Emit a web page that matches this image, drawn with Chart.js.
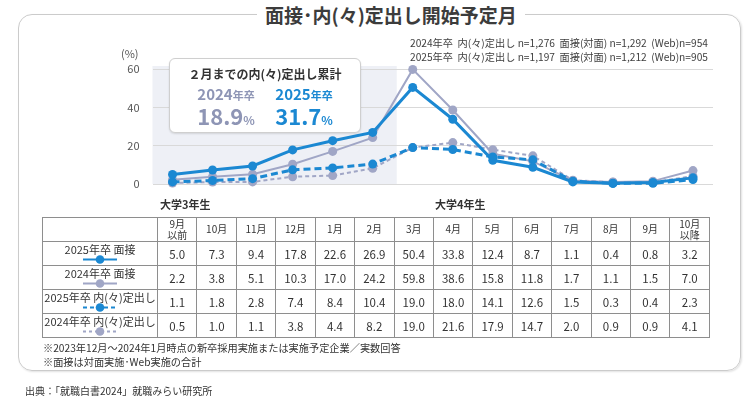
<!DOCTYPE html>
<html><head><meta charset="utf-8">
<script src="https://cdn.jsdelivr.net/npm/chart.js@4.4.1/dist/chart.umd.min.js"></script>
<style>
html,body{margin:0;padding:0;background:#fff;width:750px;height:399px;overflow:hidden;font-family:'Noto Sans CJK JP','Noto Sans',sans-serif;color:#333;}
#frame{position:absolute;left:18px;top:14px;width:721px;height:355px;border:1.5px solid #cbcbcb;border-radius:14px;box-shadow:1px 1px 2px rgba(0,0,0,0.12);}
#title{position:absolute;left:257px;top:3px;padding:0 8px;background:#fff;font-weight:bold;font-size:19px;line-height:24px;color:#3c3c3c;white-space:nowrap;}
#c{position:absolute;left:0;top:0;}
.t{position:absolute;white-space:nowrap;}
#nlines{left:410px;top:36px;font-size:10.2px;line-height:14px;color:#404040;}
#pct{left:121px;top:45px;font-size:11px;color:#555;}
.grade{font-weight:bold;font-size:11px;color:#333;top:196px;}
#box{position:absolute;left:169px;top:58px;width:190px;height:73px;background:#fff;border:1px solid #cfcfcf;border-radius:6px;box-shadow:0 1px 2px rgba(0,0,0,0.12);}
#box .bt{position:absolute;left:0;width:100%;top:6px;text-align:center;font-weight:bold;font-size:12px;color:#333;}
#box .col{position:absolute;top:27px;width:80px;text-align:center;font-weight:bold;line-height:1;}
#box .yr{font-size:15px;}
#box .yr small{font-size:11px;}
#box .val{font-size:22px;margin-top:3px;}
#box .val small{font-size:12px;}
table{position:absolute;left:42px;top:217px;border-collapse:collapse;table-layout:fixed;width:668px;}
tr{height:24px;}
td{border:1px solid #8e8e8e;text-align:center;font-size:11.5px;color:#333;padding:0;line-height:14px;}
td.hd{font-size:10px;line-height:10.5px;}
td.rh{font-size:11px;line-height:12px;vertical-align:top;padding-top:1px;}
td.rh svg{display:block;margin:0 auto;}
.note{font-size:10.2px;left:43px;color:#333;}
#src{left:25px;top:383px;font-size:10px;color:#333;}
</style></head>
<body>
<div id="frame"></div>
<div id="title">面接･内(々)定出し開始予定月</div>
<canvas id="c" width="750" height="399"></canvas>
<div class="t" id="nlines">2024年卒&nbsp; 内(々)定出し n=1,276&nbsp; 面接(対面) n=1,292&nbsp; (Web)n=954<br>2025年卒&nbsp; 内(々)定出し n=1,197&nbsp; 面接(対面) n=1,212&nbsp; (Web)n=905</div>
<div class="t" id="pct">(%)</div>
<div class="t grade" style="left:160px">大学3年生</div>
<div class="t grade" style="left:435px">大学4年生</div>
<div id="box"></div>
<table id="tbl"></table>
<div class="t note" style="top:340px">※2023年12月～2024年1月時点の新卒採用実施または実施予定企業／実数回答</div>
<div class="t note" style="top:354px">※面接は対面実施･Web実施の合計</div>
<div class="t" id="src">出典：「就職白書2024」就職みらい研究所</div>
<script>
// ---- data ----
const months = ['9月\n以前','10月','11月','12月','1月','2月','3月','4月','5月','6月','7月','8月','9月','10月\n以降'];
const seriesNames = ['2025年卒 面接','2024年卒 面接','2025年卒 内(々)定出し','2024年卒 内(々)定出し'];
const interview2025 = [5.0,7.3,9.4,17.8,22.6,26.9,50.4,33.8,12.4,8.7,1.1,0.4,0.8,3.2];
const interview2024 = [2.2,3.8,5.1,10.3,17.0,24.2,59.8,38.6,15.8,11.8,1.7,1.1,1.5,7.0];
const offer2025 = [1.1,1.8,2.8,7.4,8.4,10.4,19.0,18.0,14.1,12.6,1.5,0.3,0.4,2.3];
const offer2024 = [0.5,1.0,1.1,3.8,4.4,8.2,19.0,21.6,17.9,14.7,2.0,0.9,0.9,4.1];
const cumulativeYears = ['2024','2025'];
const cumulativeValues = ['18.9','31.7'];
const yTicks = [0,20,40,60];

const BLUE = '#1b88d2', GRAY = '#a0a6c6', GRAYTXT = '#8e95b5';
const styles = [
  {color:BLUE, width:3, dash:[]},
  {color:GRAY, width:2, dash:[]},
  {color:BLUE, width:3, dash:[7,4]},
  {color:GRAY, width:2, dash:[4,3]}
];
const allSeries = [interview2025, interview2024, offer2025, offer2024];

// ---- summary box ----
const box = document.getElementById('box');
box.innerHTML = '<div class="bt">２月までの内(々)定出し累計</div>' +
  cumulativeYears.map((y,i)=>`<div class="col" style="left:${i===0?16:94}px;color:${i===0?GRAYTXT:BLUE}"><div class="yr">${y}<small>年卒</small></div><div class="val">${cumulativeValues[i]}<small>%</small></div></div>`).join('');

// ---- table ----
function legendSvg(s){
  const dash = s.dash.length ? `stroke-dasharray="${s.width>2?'4,3':'3,3'}"` : '';
  return `<svg width="36" height="9"><line x1="1" y1="4.5" x2="35" y2="4.5" stroke="${s.color}" stroke-width="2" ${dash}/><circle cx="18" cy="4.5" r="4.3" fill="${s.color}"/></svg>`;
}
let html = '<colgroup><col style="width:115px">' + months.map(()=>'<col>').join('') + '</colgroup>';
html += '<tr><td></td>' + months.map(m=>`<td class="hd">${m.replace('\n','<br>')}</td>`).join('') + '</tr>';
allSeries.forEach((arr,i)=>{
  html += `<tr><td class="rh">${seriesNames[i]}${legendSvg(styles[i])}</td>` + arr.map(v=>`<td>${v.toFixed(1)}</td>`).join('') + '</tr>';
});
document.getElementById('tbl').innerHTML = html;

// ---- chart ----
const shade = {
  id:'shade',
  beforeDraw(chart){
    const {ctx, chartArea:a, scales:{x}} = chart;
    const xr = x.getPixelForValue(5.6);
    ctx.save();
    ctx.fillStyle = '#eef0f6';
    ctx.fillRect(a.left, a.top-3, xr-a.left, a.bottom-a.top+3);
    ctx.restore();
  }
};
new Chart(document.getElementById('c'), {
  type:'line',
  data:{
    labels: months,
    datasets: allSeries.map((arr,i)=>({
      label: seriesNames[i],
      data: arr,
      borderColor: styles[i].color,
      backgroundColor: styles[i].color,
      borderWidth: styles[i].width,
      borderDash: styles[i].dash,
      pointRadius: 4.5,
      pointBorderWidth: 0,
      pointBackgroundColor: styles[i].color,
      tension: 0,
      clip: false,
      order: [1,3,2,4][i]
    }))
  },
  options:{
    responsive:false, animation:false, devicePixelRatio:1,
    layout:{padding:{left:100,right:37,top:69,bottom:215}},
    plugins:{legend:{display:false},tooltip:{enabled:false}},
    scales:{
      x:{display:false, offset:true},
      y:{min:0,max:60,
         afterFit(s){ s.width = 52.5; },
         afterBuildTicks(s){ s.ticks = yTicks.map(v=>({value:v})); },
         ticks:{color:'#555',font:{size:11,family:"'Noto Sans CJK JP','Noto Sans',sans-serif"},padding:13},
         grid:{color:'#d9d9d9',drawTicks:false,lineWidth:1},
         border:{display:false}}
    }
  },
  plugins:[shade]
});
</script>
</body></html>
